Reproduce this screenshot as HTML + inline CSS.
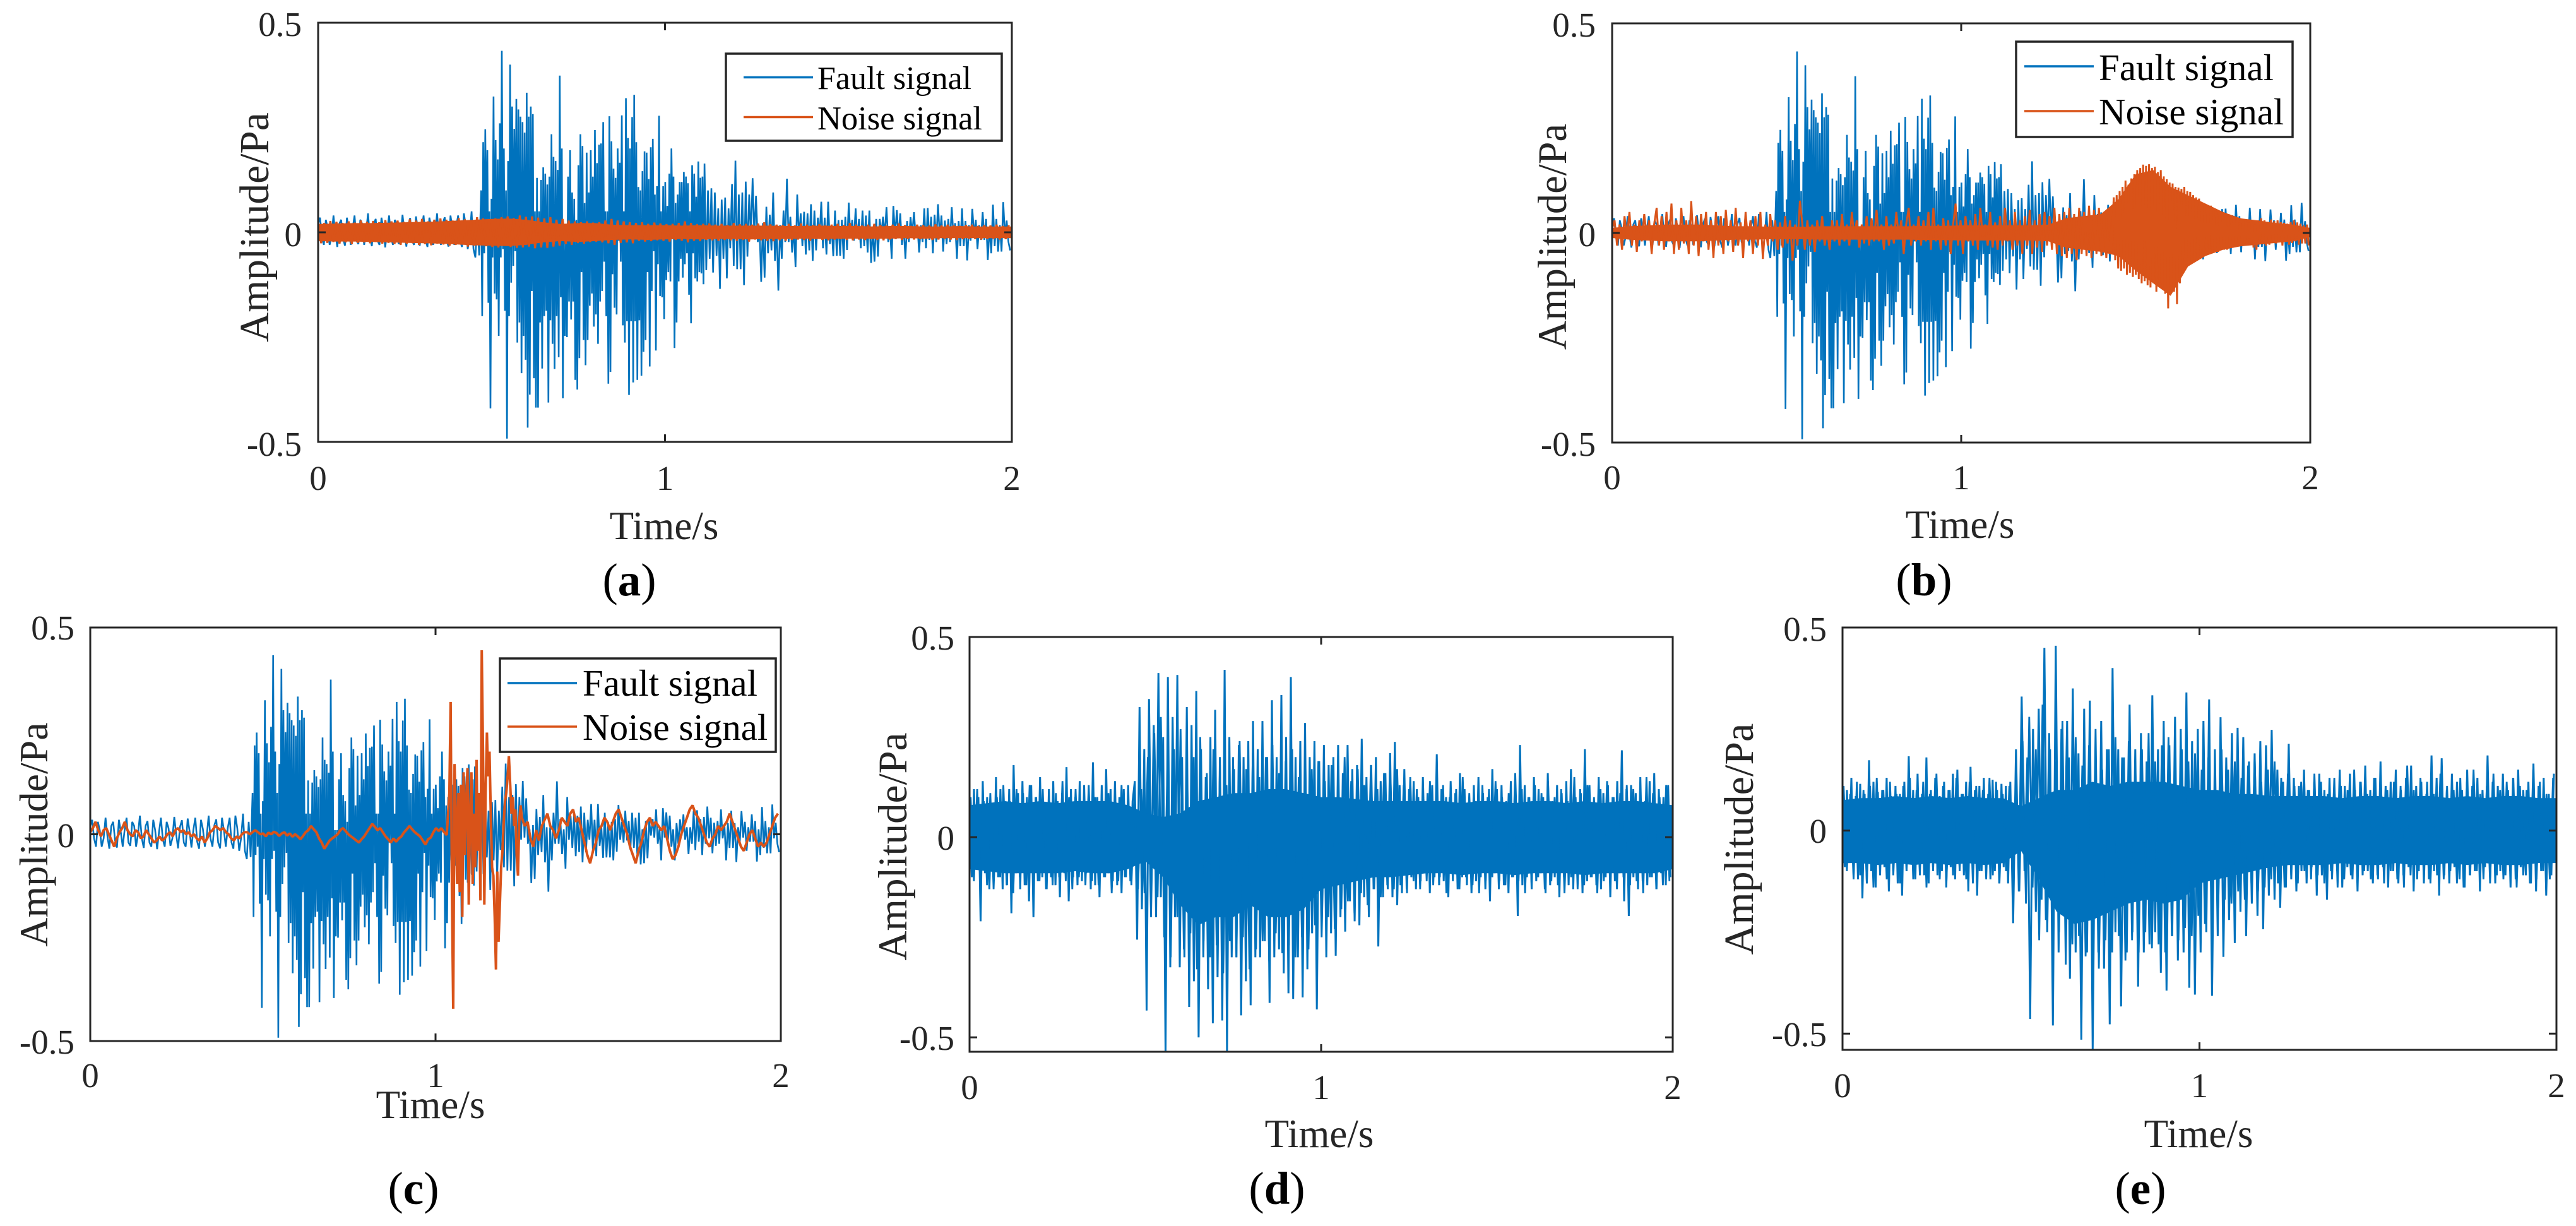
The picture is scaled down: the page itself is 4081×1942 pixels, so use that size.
<!DOCTYPE html>
<html lang="en">
<head>
<meta charset="utf-8">
<title>Fault and noise signal waveforms</title>
<style>
html,body{margin:0;padding:0;background:#fff;}
svg{display:block;font-family:"Liberation Serif",serif;}
</style>
</head>
<body>
<svg id="figure" xmlns="http://www.w3.org/2000/svg" width="4081" height="1942" viewBox="0 0 4081 1942">
<rect x="0" y="0" width="4081" height="1942" fill="#fff"/>
<g id="panel-a"></g>
<g id="panel-b"></g>
<g id="panel-c"></g>
<g id="panel-d"></g>
<g id="panel-e"></g>

<g fill="#262626">
<text transform="translate(425 360) rotate(-90)" text-anchor="middle" font-size="65.5">Amplitude/Pa</text>
<text x="1052" y="854" text-anchor="middle" font-size="63">Time/s</text>
<text transform="translate(2481 375) rotate(-90)" text-anchor="middle" font-size="64.5">Amplitude/Pa</text>
<text x="3105" y="852" text-anchor="middle" font-size="63">Time/s</text>
<text transform="translate(75 1322) rotate(-90)" text-anchor="middle" font-size="64">Amplitude/Pa</text>
<text x="682" y="1771" text-anchor="middle" font-size="63">Time/s</text>
<text transform="translate(1436 1341) rotate(-90)" text-anchor="middle" font-size="65">Amplitude/Pa</text>
<text x="2090" y="1817" text-anchor="middle" font-size="63">Time/s</text>
<text transform="translate(2777 1329) rotate(-90)" text-anchor="middle" font-size="66">Amplitude/Pa</text>
<text x="3483" y="1817" text-anchor="middle" font-size="63">Time/s</text>
</g>

<g fill="#000" font-size="73" text-anchor="middle">
<text x="997" y="943">(<tspan font-weight="bold">a</tspan>)</text>
<text x="3048" y="943">(<tspan font-weight="bold">b</tspan>)</text>
<text x="655" y="1907">(<tspan font-weight="bold">c</tspan>)</text>
<text x="2023" y="1907">(<tspan font-weight="bold">d</tspan>)</text>
<text x="3391" y="1907">(<tspan font-weight="bold">e</tspan>)</text>
</g>

<g id="legends">
<g>
<rect x="1150" y="85" width="437" height="138" fill="#fff" stroke="#262626" stroke-width="3.5"/>
<line x1="1178" x2="1288" y1="122.5" y2="122.5" stroke="#0072BD" stroke-width="3.5"/>
<line x1="1178" x2="1288" y1="185.5" y2="185.5" stroke="#D95319" stroke-width="3.5"/>
<text x="1295" y="141" font-size="52" fill="#000">Fault signal</text>
<text x="1295" y="205" font-size="52.5" fill="#000">Noise signal</text>
</g>
<g>
<rect x="3194" y="66" width="438" height="151" fill="#fff" stroke="#262626" stroke-width="3.5"/>
<line x1="3207" x2="3317" y1="105" y2="105" stroke="#0072BD" stroke-width="3.5"/>
<line x1="3207" x2="3317" y1="176" y2="176" stroke="#D95319" stroke-width="3.5"/>
<text x="3325" y="127" font-size="59" fill="#000">Fault signal</text>
<text x="3325" y="197" font-size="59" fill="#000">Noise signal</text>
</g>
<g>
<rect x="792" y="1043" width="437" height="148" fill="#fff" stroke="#262626" stroke-width="3.5"/>
<line x1="804" x2="914" y1="1082" y2="1082" stroke="#0072BD" stroke-width="3.5"/>
<line x1="804" x2="914" y1="1151" y2="1151" stroke="#D95319" stroke-width="3.5"/>
<text x="923" y="1102" font-size="59" fill="#000">Fault signal</text>
<text x="923" y="1172" font-size="59" fill="#000">Noise signal</text>
</g>
</g>
</svg>

<script>
// ---- tick data ----
const xTickValues = [0, 1, 2];
const xTickLabels = ['0', '1', '2'];
const yTickValues = [-0.5, 0, 0.5];
const yTickLabels = ['-0.5', '0', '0.5'];

// ---- fault signal (panels a, b, c), amplitude in Pa ----
const faultQuiet = [.02,.035,-.01,-.03,.03,.01,-.03,-.01,.04,-.005,-.035,.02,.03,-.015,-.032,.035,.005,-.03,.01,.04,-.02,-.028,.03,.02,-.03,0,.045,-.01,-.033,.02,.032,-.02,-.03,.035,.01,-.036,.005,.04,-.012,-.03,.03,.015,-.028,-.01,.042,0,-.034,.018,.034,-.02,-.03,.038,.008,-.032,.01,.04,-.018,-.035,.035,.012,-.03,-.005,.045,-.01,-.03,.022,.036,-.02,-.034,.04,.01,-.03,.015,.04,-.02,-.035,.045,.015,-.04,-.01,.05,-.04,-.06,.03,-.055];
const faultBurst = [.10,-.20,.215,-.05,.246,-.03,.196,-.168,.05,-.42,.08,-.06,.324,-.146,.22,-.16,.174,-.247,.26,-.06,.433,-.04,.2,-.187,.1,-.492,.17,-.2,.40,-.12,.30,-.08,.247,-.045,.318,-.263,.293,-.215,.276,-.336,.263,-.247,.238,-.304,.333,-.466,.276,-.387,.30,-.14,.282,-.348,.05,-.418,.13,-.418,.05,-.215,.125,-.325,.155,-.2,.14,-.187,.114,-.406,.133,-.21,.234,-.266,.18,-.326,.17,-.2,.149,-.298,.374,-.155,.2,-.396,.01,-.247,.01,-.25,.133,-.165,.196,-.208,.095,-.165,.08,-.352,.03,-.375,.16,-.3,.234,-.095,.206,-.257,.07,-.317,.19,-.257,.095,-.175,.196,-.146,.133,-.225,.244,-.196,.165,-.266,.209,-.165,.212,-.14,.263,-.07,.05,-.2,.05,-.361,.277,-.333,.217,-.1,.152,-.18,.13,-.196,.2,-.02,.166,-.07,.279,-.222,.05,-.263,.32,-.212,.225,-.388,.2,-.212,.275,-.358,.328,-.212,.215,-.352,.108,-.21,.10,-.342,.146,-.285,.193,-.257,.19,-.095,.127,-.32,.203,-.14,.223,-.045,.09,-.282,.11,-.076,.278,-.152,.05,-.155,.11,-.207,.12,-.114,.063,-.095,.14,-.117,.2,.01,.133,-.276,.07,-.215,.09,-.117,.12,-.063,.12,-.108,.144,-.076,.133,-.05,.117,-.149,.05,-.217,.16,-.05,.14,-.11,.085,-.117,.169,-.095,.13,-.098,.133,-.124];
const faultTail = [.164,-.09,.10,-.063,.105,-.096,.095,-.056,.057,-.135,.078,-.063,.083,-.11,.057,-.038,.115,-.08,.171,-.088,.09,-.088,.095,-.126,.121,-.058,.09,-.013,.129,-.008,.087,-.023,.012,-.118,.022,-.108,.061,-.05,.042,-.043,.095,-.068,.017,-.139,.017,-.063,.052,-.023,.128,-.023,.037,-.048,.012,-.083,.09,-.013,.045,-.033,.049,-.053,.045,-.043,.067,-.068,.052,-.043,.035,-.013,.073,-.038,.035,-.053,.073,-.028,.017,-.057,.052,-.056,.029,-.056,.03,-.063,.037,-.042,.071,-.013,.03,-.02,.057,-.015,.032,-.038,.052,-.033,.04,-.048,.052,-.073,.012,-.07,.032,-.058,.032,-.003,.037,-.008,.06,-.023,.013,-.063,.063,-.008,.053,-.013,.045,-.03,.012,-.063,.027,-.023,.036,-.003,.048,-.013,.017,-.048,.017,-.023,.057,-.038,.058,-.018,.037,-.05,.042,-.023,.067,-.01,.04,-.046,.028,-.028,.032,-.023,.06,-.01,.022,-.063,.027,-.033,.057,-.033,.027,-.067,.017,-.02,.056,-.008,.03,-.04,.017,-.018,.048,-.018,.032,-.066,.012,-.05,.066,-.033,.032,-.046,.017,-.046,.072,-.01,.028,-.023,-.043];

// ---- noise signal, panel a ----
const noiseA = [.024,-.026,.022,-.025,.027,-.023,.025,-.027,.022,-.024,.026,-.028,.023,-.025,.028,-.024,.025,-.026,.027,-.023,.024,-.027,.029,-.025,.026,-.028,
.028,-.03,.025,-.027,.031,-.026,.028,-.03,.032,-.028,.026,-.031,.03,-.027,.033,-.029,.03,-.032,.028,-.03,.034,-.028,.031,-.034,.029,-.032,.036,-.03,.033,-.033,.03,-.035,
.033,-.036,.036,-.032,.038,-.035,.034,-.037,.04,-.036,.037,-.034,.038,-.038,.035,-.036,.033,-.037,.036,-.034,
.03,-.032,.032,-.028,.028,-.03,.026,-.025,.024,-.027,.026,-.023,.023,
-.022,.024,-.024,.028,-.026,.032,-.03,.028,-.025,.026,-.024,.024,-.026,
.022,-.02,.024,-.022,.02,-.021,.023,-.019,.021,-.02,.019,-.022,.02,-.018,.022,-.02,.026,-.024,.022,-.02,.019,-.021,.02,-.018,.021,-.019,
.018,-.02,.02,-.018,.017,-.019,.022,-.02,.019,-.018,.02,-.022,.018,-.017,.021,-.019,.024,-.02,.019,-.021,.018,-.019,.017,-.02,.02,-.018,.016,-.017,.021,-.018,.018,-.02,.017,-.016,.019,-.018,.016,-.019,.018,-.017,.02,-.016,.017,-.018,.022,-.019,.018,-.017,.016,-.018,.018,-.016,.02,-.018,.017,-.019,.016,-.017,.018,-.016,.021,-.018,.017,-.016,.015,-.017,.018,-.016,.017,-.015,.016,-.018,.019,-.017,.016,-.015,.018,-.017,.016,-.018,.015,-.016,.017,-.015,.018,-.016,.015,-.017,.017,-.016,.016,-.015,.018,-.017,.015,-.016,.017];
// solid core of the trace, one value every 0.05 s
const noiseACoreUpper = [.02,.021,.022,.022,.023,.024,.025,.026,.028,.03,.032,.033,.03,.024,.02,.022,.022,.018,.017,.017,.017,.016,.017,.016,.016,.016,.016,.015,.015,.016,.015,.015,.014,.015,.015,.014,.014,.015,.014,.014,.014];
const noiseACoreLower = [-.021,-.022,-.022,-.023,-.024,-.025,-.026,-.027,-.029,-.031,-.032,-.033,-.03,-.024,-.021,-.023,-.021,-.018,-.017,-.018,-.017,-.016,-.017,-.016,-.016,-.017,-.016,-.016,-.015,-.016,-.015,-.015,-.015,-.015,-.014,-.015,-.014,-.014,-.014,-.014,-.014];

// ---- noise signal, panel b ----
const noiseBQuiet = [.01,.03,-.03,.02,-.04,.04,-.01,.05,-.03,.02,-.045,.03,-.02,.045,-.01,.03,-.05,.02,.06,-.03,.04,-.04,.05,-.02,.07,-.05,.03,-.04,.06,-.025,.03,-.05,.076,-.03,.04,-.055,.045,-.02,.05,-.04,.03,-.06,.05,-.03,.04,-.05,.055,-.02,.03,-.045,.06,-.03,.025,-.06,.05,-.02,.03,-.05,.04,-.03,.05,-.062,.02,-.03,.045,-.02,.03,-.04,.025,-.035,.04,-.025,.03,-.066,.02,-.03,.077,.02,-.04,.03,-.03,.02,-.045,.03,-.02,.04,-.03,.01,-.04,.03,-.02,.03,-.03,.045,-.02,.02,-.03,.05,-.01,.03,-.035,.02,-.025,.04,-.03,.035,-.02,.055,-.02,.02,-.04,.04,-.03,.02,-.025,.05,-.01,.03,-.05,.02,.06,-.03,.02,-.02,.04,-.03,.03,-.02,.05,-.04,.06,-.02,.02,-.04,.035,-.03,.03,-.05,.02,.07,-.03,.03,-.05,.04,-.02,.03,-.03,.045,-.04,.06,-.01,.02,-.03,.05,-.035,.025,-.04,.04,-.03,.06,-.02,.03,-.04,.05,-.03,.03,-.05,.04,-.03,.055,-.05,.03,-.035,.045,-.045,.05,-.03,.04,-.04,.06,-.05,.045,-.055,.05,-.06,.06,-.05,.045,-.065,.06,-.05,.05,-.055,.065,-.06,.055,-.05,.06,-.055,.05,-.06,.045,-.05];
const noiseBBurst = [.085,-.065,.09,-.085,.1,-.09,.11,-.085,.125,-.1,.115,-.095,.13,-.105,.14,-.1,.15,-.11,.155,-.12,.163,-.115,.16,-.125,.164,-.13,.155,-.12,.158,-.14,.145,-.12,.15,-.13,.135,-.145,.128,-.18,.12,-.135,.118,-.14,.11,-.17,.108,-.12,.105,-.085,.11,-.075,.1,-.07,.098,-.07,.09,-.065,.085,-.06,.082,-.055,.07,-.05,.06,-.05,.06,-.045,.065,-.045,.055,-.04,.05,-.045,.05,-.04,.045,-.04,.04,-.04,.045,-.035,.035,-.035,.04,-.03,.03,-.03,.035,-.03,.03,-.025,.03,-.03,.025,-.025,.028,-.035,.02,-.04];
const noiseBEnd = [.03,-.025,.035,-.02,.03,-.03,.025,-.028,.032,-.02,.028,-.025,.03,-.022,.026,-.03,.024,-.02,.022,-.028,.026,-.024,.03,-.02,.025,-.028,.022,-.025,.018,-.025,.02,-.03];
const noiseBCoreUpper = [.012,.016,.018,.02,.02,.02,.018,.016,.016,.015,.015,.015,.016,.016,.016,.016,.016,.016,.017,.017,.018,.018,.018,.018,.018,.02,.035,.04,.045,.08,.14,.15,.11,.09,.07,.05,.035,.03,.024,.02,.012];
const noiseBCoreLower = [-.012,-.016,-.018,-.02,-.02,-.02,-.018,-.016,-.016,-.015,-.015,-.015,-.016,-.016,-.016,-.016,-.016,-.016,-.017,-.017,-.018,-.018,-.018,-.018,-.018,-.02,-.035,-.04,-.045,-.055,-.09,-.12,-.15,-.08,-.055,-.04,-.032,-.028,-.024,-.02,-.01];

// ---- noise signal, panel c ----
const noiseCQuiet = [.005,.015,.03,.01,-.005,.01,.015,.0,-.015,-.03,-.01,.005,.015,.03,.01,0,-.005,.01,.005,-.01,-.005,.01,.0,-.01,-.02,-.015,-.005,-.015,-.01,0,.005,-.005,.01,.015,.005,.01,.0,.005,-.005,0,-.01,-.015,-.005,-.02,-.01,.005,.01,.02,.015,.01,.015,.005,.0,-.01,-.015,-.005,-.01,0,.005,.005,0,.005,.01,.005,0,.002,-.005,.004,.0,.006,.003,-.004,.002,.005,-.003,.002,-.006,.0,-.005,-.012,-.004,.005,.01,.02,.012,.005,-.01,-.02,-.035,-.025,-.015,-.01,-.005,.0,.01,.015,.008,.0,-.005,-.01,-.015,-.02,-.012,-.005,.005,.015,.025,.018,.01,.015,.005,-.005,-.012,-.02,-.01,-.018,-.01,-.005,.005,.012,.02,.012,.005,.0,-.005,-.015,-.025,-.012,-.008,.005,.015,.008,.015,.005,-.002];
const noiseCSpike = [.1,.32,-.15,-.422,.17,.05,-.12,.1,-.14,.12,-.2,.15,-.05,.08,.16,-.17,.05,.15,-.12,.05,-.08,.18,-.04,.1,-.16,.445,.2,-.17,.1,.246,.14,.2,.05,-.08,-.1,-.2,-.327,-.09,-.26,-.17,-.08,-.04,.03,.08,.1,.14,.189,.12,.05,.09,.02,.06,-.05,-.1,.03,.07];
const noiseCTail = [.04,.02,.03,-.01,-.03,.01,-.015,.02,.035,.05,.02,.01,-.01,.01,.04,.03,.02,.05,.06,.03,.04,.01,-.02,-.05,-.07,-.04,-.02,.01,.02,.04,.03,.01,.03,.05,.06,.04,.02,.0,-.03,-.05,-.07,-.04,-.02,.01,.03,.04,.02,.03,.02,.01,.02,-.01,-.04,-.06,-.05,-.03,0,.02,.04,.06,.07,.05,.04,.02,.0,-.02,-.03,-.01,.0,.02,.01,.02,.03,.05,.03,.01,-.01,-.03,-.04,-.02,0,.01,-.01,-.03,-.02,-.03,-.02,.0,.02,.04,.05];

// ---- de-noised signal, panel d ----
const signalDQuiet = [.09,-.1,.12,-.08,.1,-.21,.14,-.09,.1,-.13,.08,-.11,.15,-.1,.12,-.13,.09,-.12,.12,-.19,.18,-.09,.11,-.13,.14,-.12,.1,-.16,.13,-.2,.1,-.11,.15,-.1,.08,-.13,.12,-.1,.14,-.12,.09,-.15,.11,-.09,.175,-.16,.12,-.1,.1,-.12,.14,-.11,.13,-.09,.1,-.13,.187,-.12,.1,-.15,.13,-.1,.17,-.09,.12,-.11,.14,-.12,.1,-.14,.12,-.1,.13,-.11,.09];
const signalDBurst = [.14,-.256,.325,-.18,.22,-.433,.345,-.12,.28,-.2,.41,-.15,.25,-.54,.4,-.325,.3,-.2,.405,-.325,.2,-.3,.325,-.424,.28,-.36,.365,-.5,.22,-.3,.15,-.38,.25,-.465,.318,-.35,.2,-.458,.418,-.54,.25,-.3,.17,-.3,.23,-.445,.2,-.36,.24,-.42,.29,-.3,.22,-.3,.29,-.26,.2,-.414,.342,-.3,.2,-.28,.355,-.34,.25,-.39,.4,-.404,.2,-.3,.24,-.4,.285,-.33,.2,-.24,.24,-.43,.19,-.22,.23,-.3,.18,-.24,.2,-.296,.23,-.2,.16,-.236,.23,-.16,.17,-.21,.18,-.22,.246,-.15,.15,-.2,.18,-.13,.2,-.273,.14,-.15,.16,-.13,.21,-.15,.238,-.17,.13,-.14,.17,-.13];
const signalDTail = [.12,-.1,.14,-.13,.1,-.11,.15,-.09,.11,-.14,.13,-.1,.207,-.12,.12,-.11,.1,-.15,.14,-.09,.11,-.13,.16,-.1,.12,-.12,.09,-.14,.13,-.11,.15,-.1,.11,-.13,.1,-.16,.17,-.09,.12,-.11,.13,-.12,.09,-.14,.14,-.1,.11,-.197,.23,-.12,.13,-.1,.1,-.13,.15,-.11,.12,-.09,.1,-.14,.16,-.12,.09,-.1,.13,-.15,.11,-.1,.14,-.12,.17,-.13,.1,-.09,.12,-.14,.22,-.11,.13,-.1,.09,-.12,.15,-.13,.11,-.1,.13,-.15,.1,-.11,.14,-.09,.217,-.16,.12,-.197,.13,-.1,.11,-.13,.15,-.11,.09,-.12,.14,-.1,.16,-.13,.12,-.09,.1,-.12,.13,-.1];
// second, interleaved run of the densely packed oscillation
const signalDFringe = [.1,-.11,.12,-.1,.09,-.12,.11,-.13,.1,-.1,.13,-.12,.09,-.14,.12,-.1,.11,-.12,.13,-.1,.1,-.11,.12,-.13,.09,-.12,.11,-.1,.14,-.11,.1,-.13,.12,-.1,.09,-.12,.13,-.11,.1,-.12,.12,-.1,.11,-.14,.1,-.11,.13,-.1,.09,-.12,.11,-.13,
.12,-.14,.2,-.2,.26,-.15,.3,-.25,.18,-.3,.22,-.2,.27,-.28,.15,-.24,.2,-.33,.25,-.26,.16,-.3,.22,-.27,.18,-.34,.13,-.26,.2,-.3,.24,-.25,.17,-.33,.21,-.28,.15,-.26,.2,-.31,.23,-.24,.16,-.29,.19,-.27,.22,-.3,.15,-.25,.2,-.28,.17,-.22,.19,-.25,.14,-.2,.18,-.23,.16,-.18,.2,-.16,.14,-.19,.17,-.14,.13,-.17,.18,-.13,.12,-.15,.16,-.12,.14,-.13,.17,-.12,.13,-.14,.15,-.11,
.12,-.13,.1,-.11,.14,-.12,.11,-.1,.13,-.14,.1,-.11,.12,-.13,.15,-.1,.11,-.12,.09,-.14,.13,-.11,.12,-.1,.14,-.13,.1,-.12,.11,-.1,.16,-.11,.12,-.14,.1,-.12,.13,-.1,.11,-.13,.14,-.11,.1,-.12,.12,-.14,.09,-.1,.15,-.13,.11,-.12,.13,-.1,.1,-.14,.12,-.11,.14,-.12,.1,-.13,.11,-.1,.13,-.12,.12,-.11,.09,-.14,.15,-.1,.11,-.13,.1,-.12,.13,-.11];
const signalDCoreUpper = [.08,.085,.09,.085,.09,.085,.09,.09,.09,.08,.06,.05,.06,.09,.1,.11,.11,.12,.12,.11,.1,.1,.095,.09,.09,.09,.09,.09,.085,.09,.09,.085,.09,.09,.085,.09,.085,.09,.09,.085,.08];
const signalDCoreLower = [-.08,-.085,-.09,-.09,-.09,-.09,-.085,-.09,-.09,-.08,-.06,-.1,-.17,-.22,-.2,-.2,-.17,-.2,-.2,-.18,-.13,-.12,-.11,-.1,-.1,-.095,-.09,-.09,-.095,-.09,-.09,-.095,-.09,-.09,-.09,-.095,-.09,-.09,-.09,-.09,-.08];

// ---- de-noised signal, panel e ----
const signalEQuiet = [.07,-.09,.1,-.08,.13,-.11,.085,-.12,.115,-.167,.09,-.13,.173,-.1,.12,-.14,.095,-.11,.1,-.09,.13,-.15,.085,-.1,.11,-.13,.09,-.16,.12,-.1,.183,-.08,.1,-.12,.14,-.09,.09,-.11,.18,-.13,.1,-.09,.13,-.11,.085,-.1,.12,-.14,.1,-.09,.14,-.12,.15,-.085,.09,-.11,.12,-.15,.157,-.09,.1,-.16,.11,-.1,.13,-.09,.09,-.12,.125,-.1,.1,-.13,.115,-.09,.11,-.13];
const signalEBurst = [.12,-.228,.2,-.15,.33,-.1,.18,-.464,.25,-.2,.3,-.17,.45,-.25,.2,-.48,.455,-.3,.25,-.12,.27,-.365,.35,-.3,.19,-.515,.3,-.3,.32,-.54,.2,-.3,.27,-.34,.2,-.477,.4,-.25,.2,-.433,.18,-.3,.31,-.25,.2,-.384,.24,-.3,.17,-.28,.333,-.25,.2,-.35,.27,-.394,.21,-.26,.28,-.32,.25,-.3,.34,-.387,.22,-.404,.25,-.3,.27,-.25,.323,-.407,.2,-.26,.279,-.311,.18,-.22,.24,-.277,.253,-.2,.23,-.26,.17,-.18,.19,-.21,.22,-.243,.21,-.16,.248,-.17,.15,-.19,.12,-.14];
const signalETail = [.214,-.12,.13,-.15,.11,-.1,.15,-.13,.1,-.09,.12,-.16,.14,-.11,.1,-.17,.13,-.12,.09,-.1,.15,-.14,.11,-.09,.14,-.12,.1,-.15,.12,-.11,.16,-.1,.1,-.13,.13,-.12,.17,-.09,.11,-.14,.12,-.1,.15,-.13,.1,-.11,.13,-.09,.16,-.15,.11,-.1,.12,-.13,.09,-.12,.185,-.1,.13,-.16,.178,-.11,.1,-.13,.14,-.09,.12,-.12,.1,-.14,.15,-.11,.11,-.1,.13,-.15,.1,-.09,.185,-.12,.12,-.13,.11,-.1,.14,-.11,.1,-.14,.13,-.12,.15,-.09,.1,-.11,.12,-.13,.165,-.15,.11,-.1,.13,-.16,.09,-.11,.14];
const signalEFringe = [.11,-.1,.09,-.12,.12,-.11,.1,-.13,.11,-.14,.13,-.1,.1,-.12,.12,-.11,.09,-.13,.11,-.1,.13,-.12,.1,-.11,.12,-.14,.09,-.1,.14,-.12,.11,-.13,.1,-.11,.13,-.1,.09,-.12,.12,-.13,.11,-.1,.1,-.12,.13,-.11,.12,-.13,.09,-.1,.11,-.12,
.13,-.15,.22,-.18,.28,-.14,.2,-.27,.31,-.22,.24,-.3,.17,-.25,.27,-.33,.18,-.28,.23,-.26,.16,-.31,.21,-.29,.25,-.34,.15,-.27,.2,-.3,.23,-.26,.18,-.32,.22,-.27,.16,-.3,.2,-.25,.24,-.29,.17,-.28,.21,-.3,.23,-.26,.16,-.27,.2,-.24,.17,-.26,.19,-.21,.15,-.23,.18,-.2,.14,-.19,.2,-.17,.15,-.18,.17,-.15,.13,-.17,.16,-.13,.18,-.15,.12,-.14,.15,-.12,.17,-.13,.13,-.14,.14,-.11,
.11,-.13,.12,-.1,.1,-.12,.14,-.11,.12,-.13,.09,-.1,.13,-.14,.11,-.12,.1,-.11,.15,-.13,.12,-.1,.09,-.12,.13,-.11,.14,-.13,.1,-.1,.12,-.12,.11,-.14,.16,-.11,.1,-.12,.13,-.1,.12,-.13,.09,-.11,.14,-.12,.11,-.1,.1,-.13,.13,-.14,.12,-.11,.15,-.1,.09,-.12,.11,-.13,.14,-.11,.1,-.12,.12,-.1,.13,-.14,.11,-.11,.1,-.13,.15,-.12,.12,-.1,.09,-.12,.13];
const signalECoreUpper = [.075,.08,.08,.085,.08,.085,.08,.085,.08,.08,.06,.08,.1,.1,.12,.11,.12,.12,.12,.11,.1,.1,.09,.09,.085,.085,.085,.085,.08,.085,.085,.08,.085,.085,.08,.085,.08,.085,.085,.08,.08];
const signalECoreLower = [-.08,-.08,-.085,-.08,-.085,-.08,-.085,-.08,-.085,-.08,-.05,-.12,-.2,-.23,-.22,-.2,-.18,-.17,-.18,-.17,-.13,-.12,-.11,-.1,-.09,-.085,-.085,-.085,-.08,-.085,-.085,-.08,-.085,-.085,-.08,-.085,-.08,-.085,-.085,-.08,-.08];

// ---- time spans (seconds) for each stretch of samples ----
const faultSegments = [[0, .47, faultQuiet], [.47, 1.114, faultBurst], [1.114, 2, faultTail]];
const noiseASegments = [[0, 2, noiseA]];
const noiseBSegments = [[0, 1.437, noiseBQuiet], [1.437, 1.85, noiseBBurst], [1.85, 2, noiseBEnd]];
const noiseCSegments = [[0, 1.04, noiseCQuiet], [1.04, 1.25, noiseCSpike], [1.25, 2, noiseCTail]];
const signalDSegments = [[0, .47, signalDQuiet], [.47, 1.25, signalDBurst], [1.25, 2, signalDTail]];
const signalESegments = [[0, .47, signalEQuiet], [.47, 1.25, signalEBurst], [1.25, 2, signalETail]];
const signalDFringeSegments = [[.003, 2, signalDFringe]];
const signalEFringeSegments = [[.003, 2, signalEFringe]];

const SVGNS = 'http://www.w3.org/2000/svg';
const BLUE = '#0072BD', ORANGE = '#D95319', INK = '#262626';

const layouts = [
  {id:'a', left:504,  right:1603, top:36,  bottom:700,  yMin:-.5,  yLabelX:478,  xLabelY:776,  yLabelBase:[722,390,57],
   series:[{name:'fault-line-a', segs:faultSegments, color:BLUE, w:2.6},{name:'noise-line-a', segs:noiseASegments, color:ORANGE, w:3.2, up:noiseACoreUpper, low:noiseACoreLower}]},
  {id:'b', left:2554, right:3660, top:37,  bottom:701,  yMin:-.5,  yLabelX:2528, xLabelY:775,  yLabelBase:[722,390,58],
   series:[{name:'fault-line-b', segs:faultSegments, color:BLUE, w:2.6},{name:'noise-line-b', segs:noiseBSegments, color:ORANGE, w:3, up:noiseBCoreUpper, low:noiseBCoreLower}]},
  {id:'c', left:143,  right:1237, top:994, bottom:1649, yMin:-.5,  yLabelX:118,  xLabelY:1722, yLabelBase:[1669,1342,1013],
   series:[{name:'fault-line-c', segs:faultSegments, color:BLUE, w:2.6},{name:'noise-line-c', segs:noiseCSegments, color:ORANGE, w:4}]},
  {id:'d', left:1536, right:2650, top:1009,bottom:1666, yMin:-.536,yLabelX:1512, xLabelY:1741, yLabelBase:[1663,1346,1029],
   series:[{name:'signal-fringe-d', segs:signalDFringeSegments, color:BLUE, w:2.8},{name:'signal-line-d', segs:signalDSegments, color:BLUE, w:3, up:signalDCoreUpper, low:signalDCoreLower}]},
  {id:'e', left:2919, right:4050, top:994, bottom:1663, yMin:-.54, yLabelX:2894, xLabelY:1738, yLabelBase:[1657,1335,1015],
   series:[{name:'signal-fringe-e', segs:signalEFringeSegments, color:BLUE, w:2.8},{name:'signal-line-e', segs:signalESegments, color:BLUE, w:3, up:signalECoreUpper, low:signalECoreLower}]}
];

function makeScaleX(p){ return function(t){ return p.left + (t / 2) * (p.right - p.left); }; }
function makeScaleY(p){ return function(v){ return p.top + (0.5 - v) / (0.5 - p.yMin) * (p.bottom - p.top); }; }

function pathFor(segs, sx, sy){
  const parts = [];
  segs.forEach(function(seg){
    const n = seg[2].length;
    seg[2].forEach(function(v, i){
      const t = seg[0] + (seg[1] - seg[0]) * (i / n);
      parts.push(sx(t).toFixed(1) + ' ' + sy(v).toFixed(1));
    });
  });
  return 'M' + parts.join('L');
}

function corePath(up, low, sx, sy){
  const parts = [];
  up.forEach(function(v, i){
    parts.push(sx(2 * i / (up.length - 1)).toFixed(1) + ' ' + sy(v).toFixed(1));
  });
  for (let i = low.length - 1; i >= 0; i--) {
    parts.push(sx(2 * i / (low.length - 1)).toFixed(1) + ' ' + sy(low[i]).toFixed(1));
  }
  return 'M' + parts.join('L') + 'Z';
}

layouts.forEach(function(p){
  const g = document.getElementById('panel-' + p.id);
  const sx = makeScaleX(p), sy = makeScaleY(p);

  const clip = document.createElementNS(SVGNS, 'clipPath');
  clip.setAttribute('id', 'clip-' + p.id);
  
  
  const clipRect = document.createElementNS(SVGNS, 'rect');
  clipRect.setAttribute('x', p.left);
  clipRect.setAttribute('y', p.top);
  clipRect.setAttribute('width', p.right - p.left);
  clipRect.setAttribute('height', p.bottom - p.top);
  clip.appendChild(clipRect);
  g.appendChild(clip);

  p.series.forEach(function(s){
    if (s.up) {
      const core = document.createElementNS(SVGNS, 'path');
      core.setAttribute('d', corePath(s.up, s.low, sx, sy));
      core.setAttribute('fill', s.color);
      core.setAttribute('clip-path', 'url(#clip-' + p.id + ')');
      
      
      g.appendChild(core);
    }
    const line = document.createElementNS(SVGNS, 'path');
    line.setAttribute('d', pathFor(s.segs, sx, sy));
    line.setAttribute('fill', 'none');
    line.setAttribute('stroke', s.color);
    line.setAttribute('stroke-width', s.w);
    line.setAttribute('stroke-linejoin', 'bevel');
    line.setAttribute('clip-path', 'url(#clip-' + p.id + ')');
    
    
    g.appendChild(line);
  });

  const frame = document.createElementNS(SVGNS, 'rect');
  frame.setAttribute('x', p.left);
  frame.setAttribute('y', p.top);
  frame.setAttribute('width', p.right - p.left);
  frame.setAttribute('height', p.bottom - p.top);
  frame.setAttribute('fill', 'none');
  frame.setAttribute('stroke', INK);
  frame.setAttribute('stroke-width', '3');
  
  
  g.appendChild(frame);

  xTickValues.forEach(function(v, i){
    const x = sx(v);
    [[p.bottom, p.bottom - 12], [p.top, p.top + 12]].forEach(function(ends){
      const tick = document.createElementNS(SVGNS, 'line');
      tick.setAttribute('x1', x);
      tick.setAttribute('x2', x);
      tick.setAttribute('y1', ends[0]);
      tick.setAttribute('y2', ends[1]);
      tick.setAttribute('stroke', INK);
      tick.setAttribute('stroke-width', '3');
      
      
      g.appendChild(tick);
    });
    const label = document.createElementNS(SVGNS, 'text');
    label.setAttribute('x', x);
    label.setAttribute('y', p.xLabelY);
    label.setAttribute('text-anchor', 'middle');
    label.setAttribute('font-size', '55');
    label.setAttribute('fill', INK);
    
    
    label.textContent = xTickLabels[i];
    g.appendChild(label);
  });

  yTickValues.forEach(function(v, i){
    const y = sy(v);
    [[p.left, p.left + 12], [p.right, p.right - 12]].forEach(function(ends){
      const tick = document.createElementNS(SVGNS, 'line');
      tick.setAttribute('x1', ends[0]);
      tick.setAttribute('x2', ends[1]);
      tick.setAttribute('y1', y);
      tick.setAttribute('y2', y);
      tick.setAttribute('stroke', INK);
      tick.setAttribute('stroke-width', '3');
      
      
      g.appendChild(tick);
    });
    const label = document.createElementNS(SVGNS, 'text');
    label.setAttribute('x', p.yLabelX);
    label.setAttribute('y', p.yLabelBase[i]);
    label.setAttribute('text-anchor', 'end');
    label.setAttribute('font-size', '55');
    label.setAttribute('fill', INK);
    
    
    label.textContent = yTickLabels[i];
    g.appendChild(label);
  });
});

// keep the legends above the plotted traces
const legends = document.getElementById('legends');
legends.parentNode.appendChild(legends);
</script>
</body>
</html>
